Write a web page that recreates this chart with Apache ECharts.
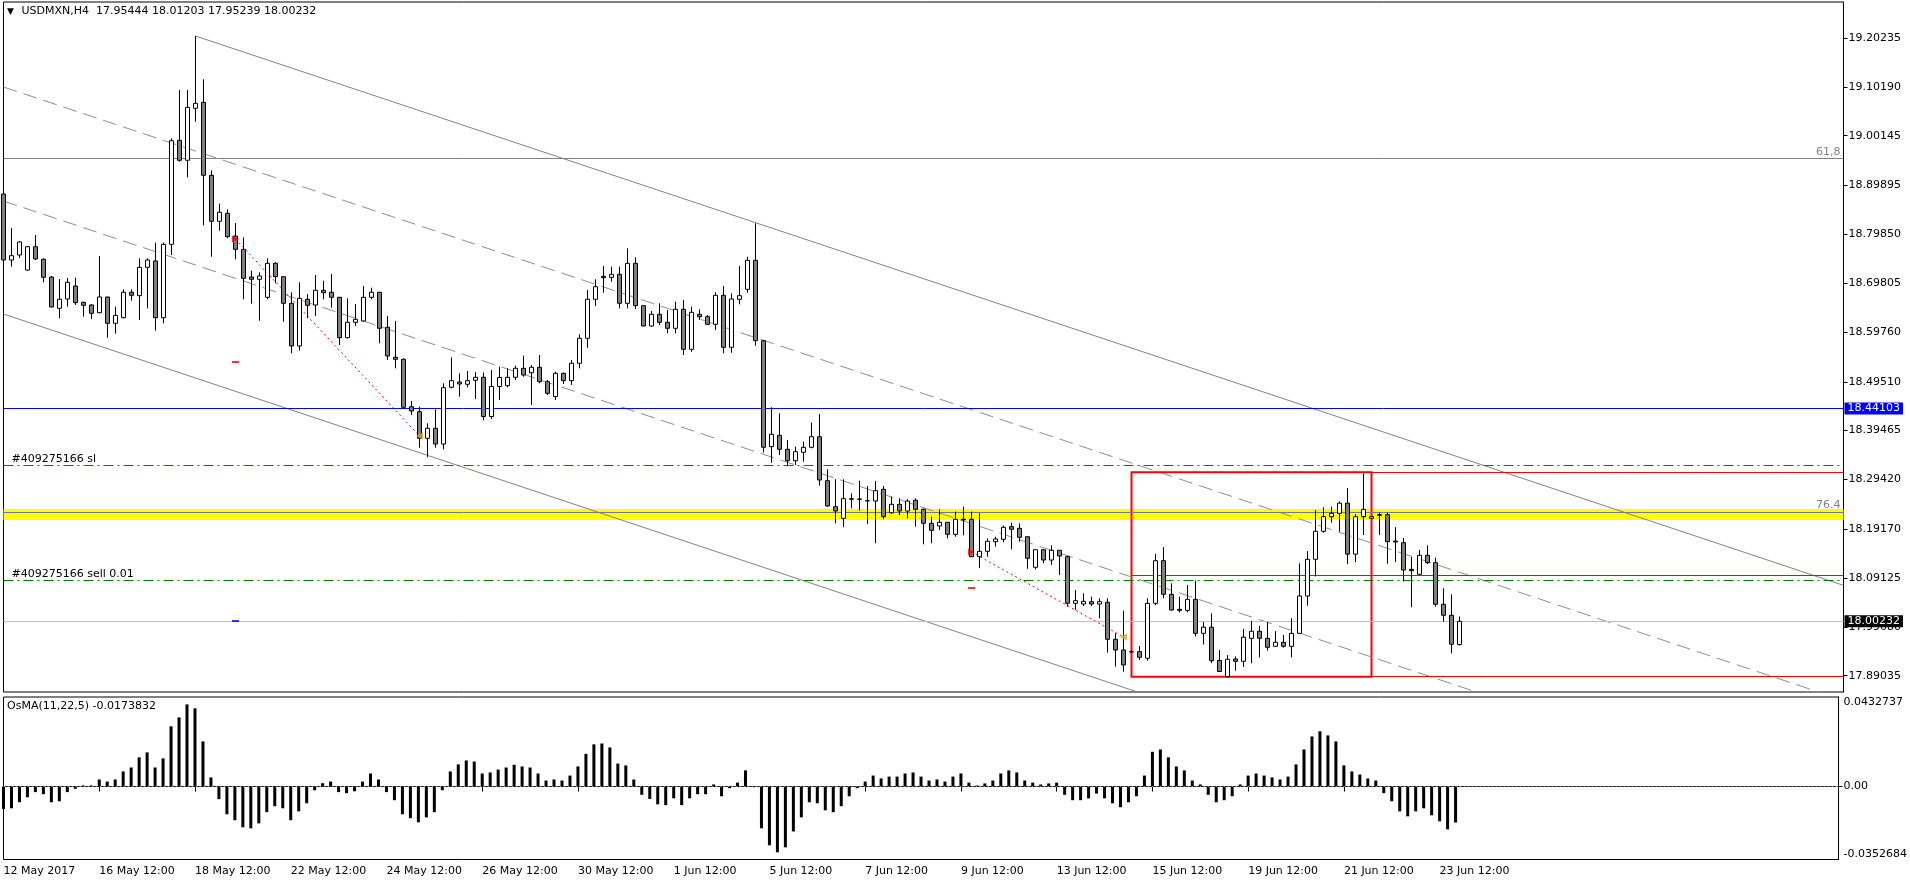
<!DOCTYPE html>
<html>
<head>
<meta charset="utf-8">
<script src="https://cdn.jsdelivr.net/npm/echarts@6/dist/echarts.min.js"></script>
<style>
html,body{margin:0;padding:0;background:#fff;}
#chart{width:1910px;height:884px;}
</style>
</head>
<body>
<div id="chart"></div>
<script>
var FONT = 'DejaVu Sans';

// USDMXN H4 bars, 12 May 2017 12:00 .. 23 Jun 2017 12:00 -> [open, close, low, high]
var candles = [
  [18.8815,18.7457,18.7313,18.8980],[18.7457,18.7546,18.7319,18.8116],[18.7560,18.7828,18.7498,18.7848],
  [18.7251,18.7731,18.7240,18.7745],[18.7731,18.7478,18.7457,18.7972],[18.7472,18.7101,18.6998,18.7492],
  [18.7107,18.6490,18.6484,18.7128],[18.6463,18.6649,18.6258,18.7066],[18.6655,18.6998,18.6496,18.7087],
  [18.6922,18.6579,18.6531,18.7093],[18.6587,18.6525,18.6291,18.6599],[18.6531,18.6360,18.6243,18.6552],
  [18.6373,18.6696,18.6360,18.7540],[18.6696,18.6155,18.5858,18.6700],[18.6155,18.6319,18.5941,18.6496],
  [18.6270,18.6793,18.6258,18.6854],[18.6793,18.6731,18.6620,18.6854],[18.6723,18.7307,18.6223,18.7492],
  [18.7307,18.7457,18.6463,18.7492],[18.7437,18.6270,18.6002,18.7813],[18.6270,18.7780,18.6155,18.7813],
  [18.7780,18.9912,18.7560,18.9961],[18.9920,18.9509,18.9480,19.0955],[18.9509,19.0599,18.9159,19.0955],
  [19.0579,19.0681,19.0303,19.2066],[19.0702,18.9200,18.8171,19.1175],[18.9200,18.8254,18.7525,18.9303],
  [18.8254,18.8439,18.8060,18.8616],[18.8418,18.7937,18.7904,18.8500],[18.7951,18.7677,18.7472,18.8219],
  [18.7677,18.7080,18.6649,18.7924],[18.7107,18.7060,18.6558,18.7237],[18.7060,18.7128,18.6208,18.7204],
  [18.6690,18.7389,18.6649,18.7492],[18.7389,18.7114,18.6978,18.7410],[18.7114,18.6566,18.6188,18.7120],
  [18.6566,18.5688,18.5538,18.6793],[18.5688,18.6669,18.5591,18.6998],[18.6649,18.6525,18.6258,18.6758],
  [18.6531,18.6834,18.6305,18.7149],[18.6834,18.6785,18.6649,18.7031],[18.6793,18.6690,18.6476,18.7169],
  [18.6690,18.5858,18.5708,18.6695],[18.5858,18.6175,18.5846,18.6669],[18.6175,18.6237,18.6099,18.6552],
  [18.6202,18.6690,18.6188,18.6922],[18.6690,18.6793,18.6649,18.6887],[18.6793,18.6052,18.5743,18.6800],
  [18.6073,18.5482,18.5400,18.6305],[18.5455,18.5414,18.5229,18.6202],[18.5414,18.4426,18.4420,18.5434],
  [18.4438,18.4350,18.4268,18.4556],[18.4336,18.3789,18.3595,18.4438],[18.3789,18.3994,18.3398,18.4097],
  [18.3994,18.3671,18.3595,18.4385],[18.3671,18.4830,18.3562,18.4920],[18.4838,18.4974,18.4817,18.5455],
  [18.4947,18.4906,18.4645,18.5126],[18.4900,18.4974,18.4838,18.5173],[18.4982,18.5044,18.4597,18.5153],
  [18.5044,18.4237,18.4155,18.5143],[18.4237,18.4855,18.4186,18.5194],[18.4855,18.5040,18.4577,18.5262],
  [18.4871,18.5044,18.4838,18.5229],[18.5044,18.5229,18.4988,18.5283],[18.5229,18.5091,18.5056,18.5488],
  [18.5138,18.5250,18.4474,18.5297],[18.5250,18.4953,18.4920,18.5503],[18.4953,18.4714,18.4680,18.4988],
  [18.4645,18.5126,18.4577,18.5159],[18.5126,18.4974,18.4906,18.5138],[18.4974,18.5332,18.4886,18.5400],
  [18.5332,18.5846,18.5229,18.5928],[18.5846,18.6649,18.5653,18.6840],[18.6649,18.6908,18.6511,18.7060],
  [18.7121,18.7093,18.6784,18.7334],[18.7101,18.7163,18.7011,18.7320],[18.7163,18.6566,18.6463,18.7320],
  [18.6566,18.7389,18.6463,18.7698],[18.7389,18.6517,18.6449,18.7513],[18.6517,18.6099,18.6095,18.6520],
  [18.6099,18.6340,18.6085,18.6408],[18.6340,18.6175,18.6120,18.6566],[18.6175,18.6052,18.5949,18.6429],
  [18.6052,18.6443,18.5949,18.6599],[18.6443,18.5620,18.5502,18.6634],[18.5620,18.6381,18.5571,18.6496],
  [18.6340,18.6291,18.6223,18.6443],[18.6291,18.6134,18.6120,18.6326],[18.6134,18.6731,18.6017,18.6793],
  [18.6731,18.5661,18.5538,18.6922],[18.5661,18.6655,18.5550,18.6772],[18.6649,18.6723,18.6546,18.7334],
  [18.6854,18.7451,18.6784,18.7525],[18.7451,18.5797,18.5694,18.8212],[18.5797,18.3604,18.3493,18.5811],
  [18.3616,18.3870,18.3287,18.4426],[18.3850,18.3562,18.3445,18.4303],[18.3562,18.3327,18.3211,18.3754],
  [18.3327,18.3513,18.3239,18.3616],[18.3500,18.3603,18.3307,18.3719],[18.3603,18.3821,18.3583,18.4110],
  [18.3821,18.2930,18.2813,18.4289],[18.2916,18.2395,18.2381,18.3151],[18.2381,18.2293,18.2040,18.2945],
  [18.2142,18.2546,18.1958,18.2945],[18.2546,18.2534,18.2348,18.2656],[18.2540,18.2534,18.2299,18.2916],
  [18.2505,18.2500,18.2025,18.2807],[18.2498,18.2710,18.1628,18.2910],[18.2739,18.2175,18.2122,18.2807],
  [18.2257,18.2430,18.2231,18.2587],[18.2430,18.2292,18.2210,18.2554],[18.2292,18.2498,18.2142,18.2534],
  [18.2513,18.2327,18.1970,18.2554],[18.2327,18.2039,18.1607,18.2348],[18.2039,18.1895,18.1628,18.2175],
  [18.1984,18.2060,18.1901,18.2327],[18.2060,18.1813,18.1730,18.2065],[18.1813,18.2122,18.1763,18.2278],
  [18.2122,18.2108,18.1792,18.2381],[18.2122,18.1352,18.1345,18.2278],[18.1352,18.1463,18.1117,18.2245],
  [18.1463,18.1669,18.1352,18.1730],[18.1661,18.1716,18.1558,18.1763],[18.1710,18.1957,18.1648,18.1990],
  [18.1970,18.1916,18.1504,18.2052],[18.1936,18.1751,18.1661,18.2039],[18.1763,18.1319,18.1103,18.1770],
  [18.1134,18.1496,18.1089,18.1504],[18.1496,18.1284,18.1216,18.1510],[18.1284,18.1484,18.1184,18.1586],
  [18.1484,18.1367,18.0976,18.1490],[18.1352,18.0393,18.0323,18.1373],[18.0393,18.0447,18.0255,18.0667],
  [18.0379,18.0434,18.0338,18.0599],[18.0427,18.0379,18.0338,18.0529],[18.0379,18.0427,18.0085,18.0496],
  [18.0414,17.9653,17.9377,18.0496],[17.9653,17.9433,17.9089,17.9777],[17.9433,17.9125,17.8986,18.0241],
  [17.9398,17.9392,17.9364,17.9433],[17.9398,17.9283,17.9228,17.9516],[17.9262,18.0393,17.9215,18.0496],
  [18.0393,18.1270,18.0352,18.1411],[18.1270,18.0578,18.0496,18.1548],[18.0578,18.0255,18.0241,18.0804],
  [18.0269,18.0248,18.0207,18.0529],[18.0248,18.0475,18.0207,18.0770],[18.0475,17.9775,17.9709,18.0859],
  [17.9775,17.9902,17.9545,18.0009],[17.9902,17.9212,17.9161,18.0188],[17.9216,17.8990,17.8986,17.9433],
  [17.8883,17.9241,17.8856,17.9330],[17.9247,17.9200,17.9006,17.9302],[17.9200,17.9697,17.9085,17.9868],
  [17.9673,17.9818,17.9159,18.0030],[17.9818,17.9673,17.9278,17.9926],[17.9673,17.9488,17.9418,18.0003],
  [17.9509,17.9591,17.9500,17.9823],[17.9591,17.9509,17.9480,17.9744],[17.9509,17.9775,17.9282,18.0085],
  [17.9775,18.0543,17.9761,18.1216],[18.0543,18.1299,18.0344,18.1469],[18.1299,18.1875,18.0946,18.2313],
  [18.1875,18.2175,18.1846,18.2368],[18.2175,18.2245,18.2052,18.2381],[18.2245,18.2454,18.1866,18.2487],
  [18.2454,18.1405,18.1199,18.2763],[18.1405,18.2175,18.1240,18.2231],[18.2175,18.2327,18.1799,18.3068],
  [18.2142,18.2175,18.2133,18.2181],[18.2216,18.2204,18.1799,18.2257],[18.2216,18.1661,18.1208,18.2257],
  [18.1675,18.1654,18.1243,18.1960],[18.1640,18.1078,18.0841,18.1737],[18.1092,18.1064,18.0311,18.1352],
  [18.0990,18.1381,18.0976,18.1490],[18.1381,18.1229,18.1202,18.1586],[18.1229,18.0373,18.0323,18.1332],
  [18.0373,18.0147,18.0015,18.0702],[18.0147,17.9550,17.9364,18.0578],[17.95444,18.00232,17.95239,18.01203]
];

// OsMA(11,22,5) histogram, one value per bar
var osma = [
  -0.0108,-0.0105,-0.0076,-0.0052,-0.0027,-0.0037,-0.0076,-0.0071,-0.0027,-0.0011,
  0.0005,0.0005,0.0034,0.0024,0.0034,0.0073,0.0092,0.0141,0.0165,0.0092,
  0.0136,0.0291,0.0334,0.0397,0.0378,0.0218,0.0044,-0.0061,-0.0134,-0.0163,
  -0.0197,-0.0202,-0.0178,-0.0124,-0.0095,-0.0105,-0.0163,-0.0120,-0.0081,-0.0018,
  0.0016,0.0024,-0.0027,-0.0032,-0.0023,0.0024,0.0063,0.0034,-0.0027,-0.0066,
  -0.0134,-0.0153,-0.0173,-0.0149,-0.0124,-0.0018,0.0073,0.0107,0.0126,0.0121,
  0.0063,0.0068,0.0082,0.0092,0.0105,0.0097,0.0092,0.0063,0.0029,0.0034,
  0.0029,0.0053,0.0097,0.0158,0.0204,0.0208,0.0189,0.0111,0.0102,0.0034,
  -0.0040,-0.0060,-0.0086,-0.0090,-0.0057,-0.0090,-0.0057,-0.0037,-0.0037,0.0010,
  -0.0047,-0.0008,0.0019,0.0078,-0.0003,-0.0202,-0.0284,-0.0318,-0.0294,-0.0217,
  -0.0149,-0.0076,-0.0081,-0.0115,-0.0124,-0.0095,-0.0047,-0.0008,0.0024,0.0053,
  0.0039,0.0048,0.0048,0.0063,0.0068,0.0048,0.0029,0.0034,0.0024,0.0048,
  0.0063,0.0019,0.0005,0.0015,0.0029,0.0063,0.0078,0.0068,0.0029,0.0019,
  0.0010,0.0015,0.0019,-0.0040,-0.0066,-0.0066,-0.0057,-0.0034,-0.0057,-0.0081,
  -0.0100,-0.0076,-0.0047,0.0053,0.0168,0.0179,0.0141,0.0097,0.0078,0.0029,
  0.0010,-0.0040,-0.0076,-0.0066,-0.0047,0.0010,0.0053,0.0063,0.0053,0.0044,
  0.0034,0.0048,0.0107,0.0179,0.0242,0.0267,0.0247,0.0218,0.0102,0.0073,
  0.0058,0.0039,0.0029,-0.0032,-0.0071,-0.0120,-0.0144,-0.0120,-0.0105,-0.0139,
  -0.0168,-0.0207,-0.0173832
];

// time labels, one every 12 bars (2 days of H4)
var timeLabels = ['12 May 2017','16 May 12:00','18 May 12:00','22 May 12:00','24 May 12:00','26 May 12:00',
  '30 May 12:00','1 Jun 12:00','5 Jun 12:00','7 Jun 12:00','9 Jun 12:00','13 Jun 12:00','15 Jun 12:00',
  '19 Jun 12:00','21 Jun 12:00','23 Jun 12:00'];
var labelStep = 12;

var priceTicks = [17.89035,17.99080,18.09125,18.19170,18.29420,18.39465,18.49510,18.59760,18.69805,
  18.79850,18.89895,19.00145,19.10190,19.20235];
var osmaTicks = [-0.0352684, 0, 0.0432737];

// chart objects: [bar, price]
var channelUpper = [[24, 19.2066], [230, 18.0762]];
var channelLower = [[0, 18.6346], [230, 17.3726]];
var channelMid1 = [[0, 19.1017], [230, 17.8397]];
var channelMid2 = [[0, 18.8671], [230, 17.6051]];
var trade1 = [[29, 18.7889], [52, 18.3836]];
var trade2 = [[121, 18.1449], [140, 17.9700]];
var slMarks = [[29, 18.5358], [121, 18.0708]];
var tpMarks = [[29, 18.0029]];

var fib618 = 18.9550, fib764 = 18.2272, yellowBand = [18.2334, 18.2108];
var blueLevel = 18.44103, slLevel = 18.3233, sellLevel = 18.0867, bid = 18.00232;
var boxBars = [141, 171], boxPrices = [18.3089, 17.8883], boxMid = 18.0969, boxEnd = 230;

var slots = [];
for (var i = 0; i < 231; i++) slots.push(i);

function showLabel(index) { return index % labelStep === 0 && index / labelStep < timeLabels.length; }

var chart = echarts.init(document.getElementById('chart'));
var txt = {fontFamily: FONT, fontSize: 11, color: '#000'};

function hline(y, color, type, lbl) {
  var d = {yAxis: y, lineStyle: {color: color, type: type, width: 1}};
  if (lbl) d.label = lbl;
  return d;
}
function seg(y, color) {
  return [{coord: [boxBars[0], y], lineStyle: {color: color, width: 1, type: 'solid'}}, {coord: [boxEnd, y]}];
}
function lineSeries(data, color, type, z) {
  return {type: 'line', xAxisIndex: 0, yAxisIndex: 0, data: data, symbol: 'none', silent: true, z: z,
    lineStyle: {color: color, width: 1, type: type}};
}

chart.setOption({
  animation: false,
  title: [{
    text: '{tri|▼} USDMXN,H4  17.95444 18.01203 17.95239 18.00232',
    left: 7, top: 6, padding: 0,
    textStyle: {fontFamily: FONT, fontSize: 11, fontWeight: 'normal', color: '#000',
      rich: {tri: {fontFamily: FONT, fontSize: 9, color: '#000', padding: [0, 4, 0, 0]}}}
  }, {
    text: 'OsMA(11,22,5) -0.0173832', left: 7, top: 701, padding: 0,
    textStyle: {fontFamily: FONT, fontSize: 11, fontWeight: 'normal', color: '#000'}
  }],
  grid: [
    {left: 3.5, right: 66.5, top: 2, height: 690, show: true, borderColor: '#000', borderWidth: 1},
    {left: 3.5, right: 66.5, top: 697, height: 162.5, show: true, borderColor: '#000', borderWidth: 1}
  ],
  xAxis: [
    {gridIndex: 0, type: 'category', data: slots, boundaryGap: false,
      axisLine: {show: false}, axisTick: {show: false}, axisLabel: {show: false}, splitLine: {show: false}},
    {gridIndex: 1, type: 'category', data: slots, boundaryGap: false,
      axisLine: {show: true, lineStyle: {color: '#000'}},
      axisTick: {show: true, length: 5, interval: showLabel, lineStyle: {color: '#000'}},
      axisLabel: Object.assign({interval: showLabel, align: 'left', margin: 6,
        formatter: function (v, idx) { return timeLabels[idx / labelStep] || ''; }}, txt),
      splitLine: {show: false}}
  ],
  yAxis: [
    {gridIndex: 0, type: 'value', position: 'right', min: 17.8568, max: 19.2766,
      splitLine: {show: false},
      axisLine: {show: true, lineStyle: {color: '#000'}},
      axisTick: {show: true, length: 4, customValues: priceTicks, lineStyle: {color: '#000'}},
      axisLabel: Object.assign({customValues: priceTicks, margin: 5,
        formatter: function (v) { return v.toFixed(5); }}, txt)},
    {gridIndex: 1, type: 'value', position: 'right', min: -0.0352684, max: 0.0432737,
      splitLine: {show: false},
      axisLine: {show: true, lineStyle: {color: '#000'}},
      axisTick: {show: true, length: 4, customValues: [0], lineStyle: {color: '#000'}},
      axisLabel: Object.assign({customValues: osmaTicks, margin: 5,
        verticalAlignMaxLabel: 'top', verticalAlignMinLabel: 'bottom',
        formatter: function (v) { return v === 0 ? '0.00' : v.toFixed(7); }}, txt)}
  ],
  series: [
    {
      type: 'line', name: 'levels', xAxisIndex: 0, yAxisIndex: 0, data: [], clip: false, silent: true, z: 2,
      markArea: {
        silent: true,
        data: [
          [{yAxis: yellowBand[0], itemStyle: {color: '#ffff00'}}, {yAxis: yellowBand[1]}],
          [{coord: [boxBars[0], boxPrices[0]], itemStyle: {color: 'rgba(0,0,0,0)', borderColor: '#ff0000', borderWidth: 2}},
           {coord: [boxBars[1], boxPrices[1]]}]
        ]
      },
      markLine: {
        silent: true, symbol: ['none', 'none'], precision: 5,
        label: {show: false},
        data: [
          hline(fib618, '#808080', 'solid', Object.assign({show: true, position: 'insideEndTop', formatter: '61,8', distance: [3, 1]}, txt, {color: '#808080'})),
          hline(fib764, '#7474a8', 'solid', Object.assign({show: true, position: 'insideEndTop', formatter: '76.4', distance: [3, 1]}, txt, {color: '#808080'})),
          hline(slLevel, '#a52a2a', [10, 4, 2, 4], Object.assign({show: true, position: 'insideStartTop', formatter: '#409275166 sl', distance: [8, 1]}, txt)),
          hline(sellLevel, '#008000', [10, 4, 2, 4], Object.assign({show: true, position: 'insideStartTop', formatter: '#409275166 sell 0.01', distance: [8, 1]}, txt)),
          hline(bid, '#c0c0c0', 'solid', Object.assign({show: true, position: 'end', formatter: '18.00232', distance: 1,
            backgroundColor: '#000', padding: [1, 3, 0, 3]}, txt, {color: '#fff'})),
          seg(boxPrices[0], '#ff0000'),
          seg(boxMid, '#ff0000'),
          seg(boxPrices[1], '#ff0000')
        ]
      }
    },
    {
      type: 'line', name: 'blue level', xAxisIndex: 0, yAxisIndex: 0, data: [], clip: false, silent: true, z: 2,
      markLine: {
        silent: true, symbol: ['none', 'none'],
        lineStyle: {color: '#0000ff', width: 1, type: 'solid', opacity: 1},
        label: Object.assign({show: true, position: 'end', formatter: '18.44103', distance: 1,
          backgroundColor: '#0000ff', padding: [1, 3, 0, 3]}, txt, {color: '#fff'}),
        data: [{yAxis: blueLevel}]
      }
    },
    lineSeries(channelUpper, '#808080', 'solid', 3),
    lineSeries(channelLower, '#808080', 'solid', 3),
    lineSeries(channelMid1, '#8c8c8c', [14, 7], 3),
    lineSeries(channelMid2, '#8c8c8c', [14, 7], 3),
    lineSeries(trade1, '#ff0000', [2, 3], 4),
    lineSeries(trade2, '#ff0000', [2, 3], 4),
    {
      type: 'candlestick', name: 'USDMXN,H4', xAxisIndex: 0, yAxisIndex: 0, data: candles,
      barWidth: 5, z: 5, silent: true,
      itemStyle: {color: '#ffffff', color0: '#7f7f7f', borderColor: '#000', borderColor0: '#000',
        borderColorDoji: '#000', borderWidth: 1}
    },
    {type: 'scatter', xAxisIndex: 0, yAxisIndex: 0, data: [trade1[0], trade2[0]], symbol: 'triangle',
      symbolRotate: -90, symbolSize: 7, itemStyle: {color: '#ff0000'}, z: 6, silent: true},
    {type: 'scatter', xAxisIndex: 0, yAxisIndex: 0, data: [trade1[1], trade2[1]], symbol: 'triangle',
      symbolRotate: 90, symbolSize: 7, itemStyle: {color: '#e0a020'}, z: 6, silent: true},
    {type: 'scatter', xAxisIndex: 0, yAxisIndex: 0, data: slMarks, symbol: 'rect',
      symbolSize: [7, 2], itemStyle: {color: '#ff0000'}, z: 6, silent: true},
    {type: 'scatter', xAxisIndex: 0, yAxisIndex: 0, data: tpMarks, symbol: 'rect',
      symbolSize: [7, 2], itemStyle: {color: '#0000ff'}, z: 6, silent: true},
    {
      type: 'bar', name: 'OsMA', xAxisIndex: 1, yAxisIndex: 1, data: osma, barWidth: 3,
      itemStyle: {color: '#000'}, silent: true,
      markLine: {silent: true, symbol: ['none', 'none'], label: {show: false},
        lineStyle: {color: '#808080', type: [2, 2], width: 1}, data: [{yAxis: 0}]}
    }
  ]
});
</script>
</body>
</html>
